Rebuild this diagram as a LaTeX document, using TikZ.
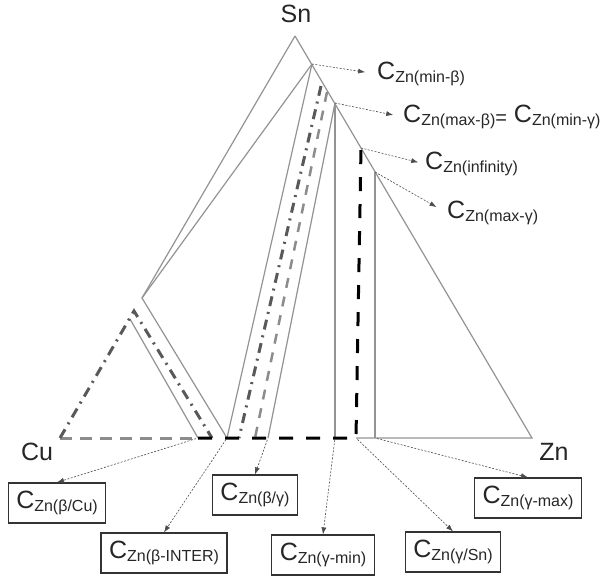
\documentclass[tikz,border=0pt]{standalone}
\usepackage{fontspec}
\setmainfont{Liberation Sans}
\usetikzlibrary{arrows.meta, calc}

\newcommand{\czn}[1]{C{\fontsize{16}{16}\selectfont\raisebox{-3pt}{Zn(#1)}}}

\begin{document}
\begin{tikzpicture}[x=1pt, y=-1pt,
  edge/.style={gray!85, line width=1.2pt},
  dashdot/.style={black!65, line width=3pt, dash pattern=on 10pt off 6pt on 2pt off 6pt},
  greydash/.style={black!45, line width=3pt, dash pattern=on 12pt off 8pt},
  blackdash/.style={black, line width=3pt, dash pattern=on 14pt off 13pt},
  lightdash/.style={black!45, line width=2.5pt, dash pattern=on 10pt off 9pt},
  pointer/.style={-{Latex[length=7pt,width=5pt]}, black!70, line width=0.6pt, dash pattern=on 2pt off 1.5pt},
  tag/.style={font=\fontsize{25}{25}\selectfont, text=black!85, inner sep=0pt},
  cbox/.style={draw=black!80, line width=1.2pt, minimum height=40pt, inner xsep=8pt, font=\fontsize{25}{25}\selectfont, text=black!85}
]
\useasboundingbox (0,0) rectangle (608,580);

% corners of the triangle
\coordinate (cu) at (60,438);
\coordinate (zn) at (532,438);
\coordinate (sn) at (295,36);
% points on the Sn-Zn side
\coordinate (p1) at (312,64);
\coordinate (p2) at (335,103);
\coordinate (p3) at (361,148);
\coordinate (p4) at (375,172);
% points on the Sn-Cu side
\coordinate (q1) at (142,298);
\coordinate (q2) at (130,319);
\coordinate (q3) at (134,311);
% tops of the dashed lines in the beta band
\coordinate (d1) at (321,86);
\coordinate (d2) at (327,92);
% points on the base
\coordinate (b1) at (198,438);
\coordinate (b2) at (212,438);
\coordinate (b3) at (227,438);
\coordinate (b4) at (239,438);
\coordinate (b5) at (255,438);
\coordinate (b6) at (268,438);
\coordinate (b7) at (335,438);
\coordinate (b8) at (356,438);
\coordinate (b9) at (375,438);

% thin lines
\draw[edge] (sn) -- (zn) -- (b8);
\draw[edge] (sn) -- (q1);
\draw[edge] (p1) -- (q1) -- (b3);
\draw[edge] (q2) -- (b1);
\draw[edge] (p1) -- (b3);
\draw[edge] (p2) -- (b6);
\draw[edge] (p2) -- (b7);
\draw[edge] (p4) -- (b9);

% dashed paths
\draw[greydash] (cu) -- (b1);
\draw[dashdot] (cu) -- (q3) -- (b2);
\draw[dashdot] (d1) -- (b4);
\draw[lightdash] (d2) -- (b5);
\draw[blackdash] (b1) -- (b8) -- (p3);

% element labels
\node[tag] (lsn) at (296,14) {Sn};
\node[tag] (lcu) at (37,452) {Cu};
\node[tag] (lzn) at (554,452) {Zn};

% labels on the Sn-Zn side
\node[tag, anchor=west] (lminb) at (377,74) {\czn{min-β}};
\node[tag, anchor=west] (lmaxb) at (403,117) {\czn{max-β}{\fontsize{20}{20}\selectfont\raisebox{-2pt}{=}} \czn{min-γ}};
\node[tag, anchor=west] (linf) at (425,164) {\czn{infinity}};
\node[tag, anchor=west] (lmaxg) at (447,213) {\czn{max-γ}};
\draw[pointer, shorten >=12pt] (p1) -- (lminb.west);
\draw[pointer, shorten >=10pt] (p2) -- (lmaxb.west);
\draw[pointer, shorten >=7pt] (p3) -- (linf.west);
\draw[pointer, shorten >=12pt] (p4) -- (lmaxg.west);

% boxes below the base
\node[cbox] (bcu) at (57,503) {\czn{β/Cu}};
\node[cbox] (binter) at (164,553) {\czn{β-INTER}};
\node[cbox] (bbg) at (255,495) {\czn{β/γ}};
\node[cbox] (bgmin) at (323,555) {\czn{γ-min}};
\node[cbox] (bgsn) at (453,552) {\czn{γ/Sn}};
\node[cbox] (bgmax) at (528,498) {\czn{γ-max}};
\draw[pointer, shorten <=2pt] (b1) -- (bcu.north);
\draw[pointer, shorten <=2pt] (b3) -- (binter.north);
\draw[pointer, shorten <=2pt] (b6) -- (bbg.north);
\draw[pointer, shorten <=2pt] (b7) -- (bgmin.north);
\draw[pointer, shorten <=2pt] (b8) -- (bgsn.north);
\draw[pointer, shorten <=2pt] (b9) -- (bgmax.north);
\end{tikzpicture}
\end{document}
